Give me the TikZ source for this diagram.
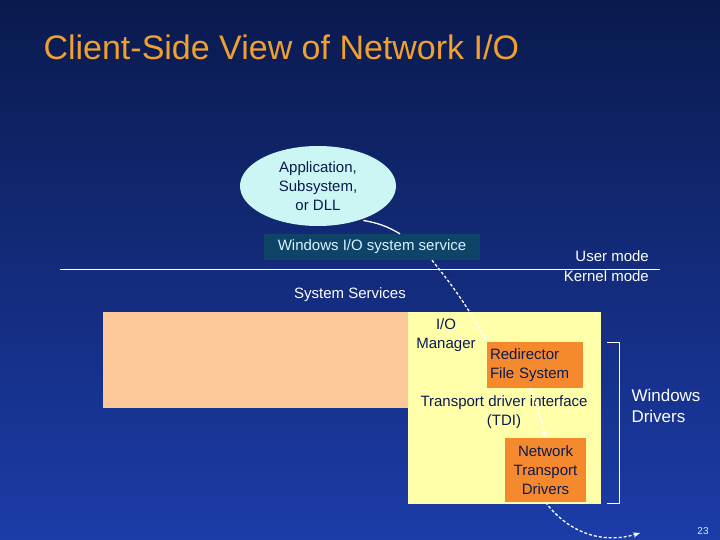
\documentclass[tikz,border=0pt]{standalone}
\usepackage{fontspec}
\setmainfont{Liberation Sans}
\usetikzlibrary{shapes.geometric,arrows.meta}
\definecolor{bgtop}{HTML}{0A1A4E}
\definecolor{bgbot}{HTML}{1C3CA8}
\definecolor{titleorange}{HTML}{F0A030}
\definecolor{appcyan}{HTML}{CCF6F4}
\definecolor{svcteal}{HTML}{0E4468}
\definecolor{peach}{HTML}{FCC89A}
\definecolor{paleyellow}{HTML}{FFFFAA}
\definecolor{drvorange}{HTML}{F5892E}
\definecolor{inktext}{HTML}{0A1A50}
\begin{document}
\begin{tikzpicture}[x=1pt,y=-1pt,
        body/.style = {font=\fontsize{15}{19}\selectfont, align=center, inner sep=1pt},
        drv/.style = {body, fill=drvorange, text=inktext, inner sep=0pt},
        flow/.style = {white, line width=1.3pt, dash pattern=on 3pt off 2pt, -{Stealth[length=7pt]}}]
    % background
    \shade[top color=bgtop, bottom color=bgbot] (0,0) rectangle (720,540);
    \useasboundingbox (0,0) rectangle (720,540);
    \node[anchor=west, text=titleorange, font=\fontsize{34}{40}\selectfont] (title) at (40,47) {Client-Side View of Network I/O};

    % user side
    \node[ellipse, fill=appcyan, minimum width=156, minimum height=80, body, text=inktext] (app) at (318,186) {Application,\\Subsystem,\\or DLL};
    \node[body, fill=svcteal, text=white!85!cyan, minimum width=216, minimum height=26] (svc) at (372,247) {Windows I/O system service};
    \draw[white, thick] (60,269) -- (660,269);
    \node[body, text=white, anchor=east] (user) at (650,256) {User mode};
    \node[body, text=white, anchor=east] (kernel) at (650,276) {Kernel mode};
    \node[body, text=white] (syssvc) at (350,295) {System Services};

    % kernel side
    \fill[peach] (103,312) rectangle (408,408);
    \fill[paleyellow] (408,312) rectangle (601,504);
    \node[body, text=inktext] (iomgr) at (446,335) {I/O\\Manager};
    \node[drv, align=left, minimum width=96, minimum height=46, text width=90] (redir) at (535,365) {Redirector\\File System};
    \node[body, text=inktext] (tdi) at (504,412) {Transport driver interface\\(TDI)};
    \node[drv, minimum width=81, minimum height=64] (ntd) at (545.5,470) {Network\\Transport\\Drivers};
    \draw[white] (607,342) -- (619,342) -- (619,503) -- (607,503);
    \node[text=white, font=\fontsize{17}{21}\selectfont, align=left] (windrv) at (666,406) {Windows\\Drivers};
    \node[text=white!80!cyan, font=\fontsize{10}{12}\selectfont] (page) at (703,531) {23};

    % flow of a request
    \coordinate (exit) at (640,533);
    \draw[white, line width=1.3pt] ([xshift=-10pt,yshift=-6pt]app.south east) to[bend left=10] ([xshift=28pt]svc.north);
    \draw[flow] ([xshift=60pt]svc.south) to[bend left=5] (redir.north west);
    \draw[flow] ([xshift=-5pt]redir.south) to[bend left=5] (ntd.north);
    \draw[flow] (ntd.south) to[bend right=35] (exit);
\end{tikzpicture}
\end{document}
